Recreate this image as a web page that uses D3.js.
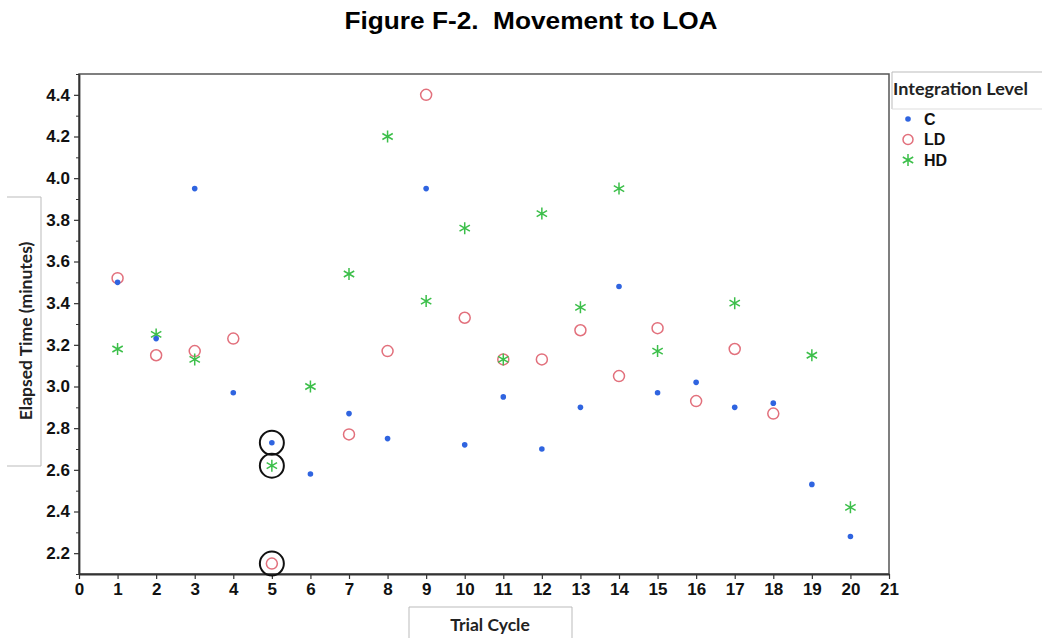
<!DOCTYPE html>
<html>
<head>
<meta charset="utf-8">
<script src="https://cdn.jsdelivr.net/npm/d3@7"></script>
<style>
  html, body { margin: 0; padding: 0; background: #fff; }
  svg { display: block; }
</style>
</head>
<body>
<svg id="chart" width="1043" height="638"></svg>
<script>
// ---- Data ----
const trialC  = [1,2,3,4,5,6,7,8,9,10,11,12,13,14,15,16,17,18,19,20];
const valuesC = [3.50,3.23,3.95,2.97,2.73,2.58,2.87,2.75,3.95,2.72,2.95,2.70,2.90,3.48,2.97,3.02,2.90,2.92,2.53,2.28];

const trialLD  = [1,2,3,4,5,7,8,9,10,11,12,13,14,15,16,17,18];
const valuesLD = [3.52,3.15,3.17,3.23,2.15,2.77,3.17,4.40,3.33,3.13,3.13,3.27,3.05,3.28,2.93,3.18,2.87];

const trialHD  = [1,2,3,5,6,7,8,9,10,11,12,13,14,15,17,19,20];
const valuesHD = [3.18,3.25,3.13,2.62,3.00,3.54,4.20,3.41,3.76,3.13,3.83,3.38,3.95,3.17,3.40,3.15,2.42];

// highlighted points (trial 5)
const highlightTrial  = [5,5,5];
const highlightValues = [2.73,2.62,2.15];

const xTicks = d3.range(0, 22);
const yTicksMajor = [2.2,2.4,2.6,2.8,3.0,3.2,3.4,3.6,3.8,4.0,4.2,4.4];
const yTicksMinor = [2.1,2.3,2.5,2.7,2.9,3.1,3.3,3.5,3.7,3.9,4.1,4.3,4.5];

const legendNames = ["C","LD","HD"];
const colors = { C: "#2f64e0", LD: "#e2707c", HD: "#3cbf4a" };

// ---- Layout ----
const svg = d3.select("#chart");
const L = 79, R = 889, T = 74, B = 574;

const x = d3.scaleLinear().domain([0, 21]).range([L, R]);
const y = d3.scaleLinear().domain([2.1, 4.5]).range([B, T]);

// Title
svg.append("text")
  .attr("x", 531).attr("y", 29)
  .attr("text-anchor", "middle")
  .attr("xml:space", "preserve")
  .style("white-space", "pre")
  .attr("font-family", "Liberation Sans, Arial, sans-serif")
  .attr("font-weight", "bold")
  .attr("font-size", 23)
  .attr("textLength", 373)
  .attr("lengthAdjust", "spacingAndGlyphs")
  .text("Figure F-2.  Movement to LOA");

// Plot frame
svg.append("rect")
  .attr("x", L).attr("y", T)
  .attr("width", R - L).attr("height", B - T)
  .attr("fill", "none").attr("stroke", "#555").attr("stroke-width", 1.5);

// X axis
const xAxis = d3.axisBottom(x).tickValues(xTicks).tickFormat(d3.format("d")).tickSize(5).tickSizeOuter(0);
const gx = svg.append("g").attr("transform", `translate(0,${B})`).call(xAxis);
gx.select(".domain").attr("stroke", "#333").attr("stroke-width", 1.8);
gx.selectAll(".tick line").attr("stroke", "#333").attr("stroke-width", 1.2);
gx.selectAll(".tick text")
  .attr("font-family", "Liberation Sans, Arial, sans-serif")
  .attr("font-weight", "bold").attr("font-size", 17).attr("fill", "#111").attr("dy", "0.92em").attr("y", 5);

// Y axis major
const yAxis = d3.axisLeft(y).tickValues(yTicksMajor).tickFormat(d3.format(".1f")).tickSize(5).tickSizeOuter(0);
const gy = svg.append("g").attr("transform", `translate(${L},0)`).call(yAxis);
gy.select(".domain").attr("stroke", "#333").attr("stroke-width", 1.8);
gy.selectAll(".tick line").attr("stroke", "#333").attr("stroke-width", 1.2);
gy.selectAll(".tick text")
  .attr("font-family", "Liberation Sans, Arial, sans-serif")
  .attr("font-weight", "bold").attr("font-size", 17).attr("fill", "#111").attr("x", -9);

// Y axis minor
const yAxisMinor = d3.axisLeft(y).tickValues(yTicksMinor).tickFormat("").tickSize(3).tickSizeOuter(0);
const gym = svg.append("g").attr("transform", `translate(${L},0)`).call(yAxisMinor);
gym.select(".domain").remove();
gym.selectAll(".tick line").attr("stroke", "#333").attr("stroke-width", 1);

// Axis title boxes
svg.append("path")
  .attr("d", `M7,197 H41 V466 H7`)
  .attr("fill", "none").attr("stroke", "#bbb").attr("stroke-width", 1);
svg.append("text")
  .attr("transform", "translate(32,331) rotate(-90)")
  .attr("text-anchor", "middle")
  .attr("font-family", "Lato, 'Open Sans', sans-serif")
  .attr("font-weight", "bold").attr("font-size", 17.5).attr("fill", "#222")
  .text("Elapsed Time (minutes)");

svg.append("path")
  .attr("d", `M409,638 V607 H572 V638`)
  .attr("fill", "none").attr("stroke", "#bbb").attr("stroke-width", 1);
svg.append("text")
  .attr("x", 490).attr("y", 631)
  .attr("text-anchor", "middle")
  .attr("font-family", "Lato, 'Open Sans', sans-serif")
  .attr("font-weight", "bold").attr("font-size", 17.5).attr("fill", "#222")
  .text("Trial Cycle");

// ---- Marks ----
const dataC  = trialC.map((t, i) => ({ t, v: valuesC[i] }));
const dataLD = trialLD.map((t, i) => ({ t, v: valuesLD[i] }));
const dataHD = trialHD.map((t, i) => ({ t, v: valuesHD[i] }));
const dataHi = highlightTrial.map((t, i) => ({ t, v: highlightValues[i] }));

const starPath = (s) => {
  let p = "";
  for (let k = 0; k < 3; k++) {
    const a = Math.PI / 2 + k * Math.PI / 3;
    const dx = Math.cos(a) * s, dy = Math.sin(a) * s;
    p += `M${-dx},${-dy}L${dx},${dy}`;
  }
  return p;
};

// LD circles
svg.append("g").selectAll("circle").data(dataLD).join("circle")
  .attr("cx", d => x(d.t)).attr("cy", d => y(d.v)).attr("r", 5.5)
  .attr("fill", "none").attr("stroke", colors.LD).attr("stroke-width", 1.5);

// HD asterisks
svg.append("g").selectAll("path").data(dataHD).join("path")
  .attr("transform", d => `translate(${x(d.t)},${y(d.v)})`)
  .attr("d", starPath(6))
  .attr("stroke", colors.HD).attr("stroke-width", 1.5).attr("fill", "none");

// C dots
svg.append("g").selectAll("circle").data(dataC).join("circle")
  .attr("cx", d => x(d.t)).attr("cy", d => y(d.v)).attr("r", 2.8)
  .attr("fill", colors.C);

// Highlight rings
svg.append("g").selectAll("circle").data(dataHi).join("circle")
  .attr("cx", d => x(d.t)).attr("cy", d => y(d.v)).attr("r", 12)
  .attr("fill", "none").attr("stroke", "#111").attr("stroke-width", 2);

// ---- Legend ----
svg.append("path")
  .attr("d", `M892,109 V72 H1042`)
  .attr("fill", "none").attr("stroke", "#bbb").attr("stroke-width", 1);
svg.append("path")
  .attr("d", `M892,109 H1042`)
  .attr("fill", "none").attr("stroke", "#ddd").attr("stroke-width", 1);
svg.append("text")
  .attr("x", 893).attr("y", 95)
  .attr("font-family", "Lato, 'Open Sans', sans-serif")
  .attr("font-weight", "bold").attr("font-size", 17).attr("fill", "#222")
  .attr("textLength", 135).attr("lengthAdjust", "spacingAndGlyphs")
  .text("Integration Level");

const leg = svg.append("g").selectAll("g").data(legendNames).join("g")
  .attr("transform", (d, i) => `translate(908,${119 + i * 20.5})`);
leg.each(function(d) {
  const g = d3.select(this);
  if (d === "C") g.append("circle").attr("r", 2.8).attr("fill", colors.C);
  if (d === "LD") g.append("circle").attr("r", 5).attr("fill", "none").attr("stroke", colors.LD).attr("stroke-width", 1.5);
  if (d === "HD") g.append("path").attr("d", starPath(6)).attr("stroke", colors.HD).attr("stroke-width", 1.5);
});
leg.append("text")
  .attr("x", 16).attr("y", 0).attr("dy", "0.36em")
  .attr("font-family", "Liberation Sans, Arial, sans-serif")
  .attr("font-weight", "bold").attr("font-size", 16).attr("fill", "#111")
  .text(d => d);
</script>
</body>
</html>
